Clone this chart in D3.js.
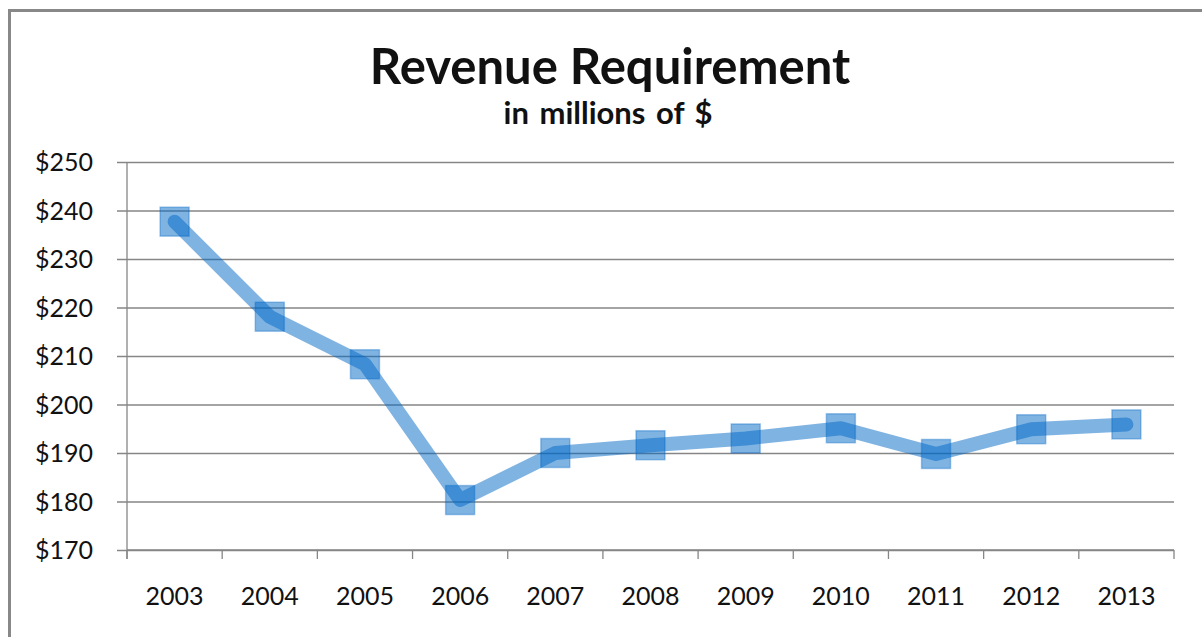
<!DOCTYPE html>
<html>
<head>
<meta charset="utf-8">
<script src="https://cdn.jsdelivr.net/npm/d3@7"></script>
<style>
  html, body { margin: 0; padding: 0; background: #fff; }
  svg { display: block; }
  text { font-family: Lato, "Open Sans", sans-serif; fill: #111; }
</style>
</head>
<body>
<svg id="chart" width="1202" height="637"></svg>
<script>
// Annual revenue requirement, millions of dollars
const years = ["2003", "2004", "2005", "2006", "2007", "2008", "2009", "2010", "2011", "2012", "2013"];
const revenue = [237.7, 218.1, 208.3, 180.3, 190.0, 191.6, 193.0, 195.1, 189.8, 194.9, 195.9];
const yTicks = [170, 180, 190, 200, 210, 220, 230, 240, 250];

const svg = d3.select("#chart");
const W = 1202, H = 637;
const plot = { left: 127, right: 1174, top: 162, bottom: 550 };

// chart frame (runs off the right and bottom edges)
svg.append("rect")
  .attr("x", 9.5).attr("y", 10.5)
  .attr("width", W + 20).attr("height", H + 20)
  .attr("fill", "#fff")
  .attr("stroke", "#888").attr("stroke-width", 3);

// titles
svg.append("text")
  .attr("x", 610).attr("y", 84)
  .attr("text-anchor", "middle")
  .style("font-weight", 700).style("font-size", "49px")
  .text("Revenue Requirement");
svg.append("text")
  .attr("x", 608).attr("y", 124)
  .attr("text-anchor", "middle")
  .style("font-weight", 700).style("font-size", "31px")
  .style("word-spacing", "3px")
  .text("in millions of $");

const x = d3.scaleBand().domain(years).range([plot.left, plot.right]);
const y = d3.scaleLinear().domain([170, 250]).range([plot.bottom, plot.top]);

const gridColor = "#868686";

// horizontal gridlines with left tick marks and $ labels
const yAxis = d3.axisLeft(y)
  .tickValues(yTicks)
  .tickSize(-(plot.right - plot.left))
  .tickPadding(0)
  .tickFormat(d => "$" + d);
const gy = svg.append("g").attr("transform", `translate(${plot.left},0)`).call(yAxis);
gy.select(".domain").remove();
gy.selectAll(".tick line")
  .attr("x1", -10)
  .attr("stroke", gridColor).attr("stroke-width", 1.3);
gy.selectAll(".tick text")
  .attr("x", -34).attr("dy", "0.34em")
  .style("font-size", "25px").style("font-family", "Lato, 'Open Sans', sans-serif")
  .attr("fill", "#111");

// vertical axis line
svg.append("line")
  .attr("x1", plot.left).attr("x2", plot.left)
  .attr("y1", plot.top).attr("y2", plot.bottom + 9)
  .attr("stroke", gridColor).attr("stroke-width", 1.3);

// category axis: ticks at band boundaries, labels centred in each band
const gx = svg.append("g").attr("transform", `translate(0,${plot.bottom})`);
gx.append("line")
  .attr("x1", plot.left).attr("x2", plot.right)
  .attr("stroke", gridColor).attr("stroke-width", 1.3);
const bounds = years.map(d => x(d)).concat([x(years[years.length - 1]) + x.bandwidth()]);
gx.selectAll("line.bt").data(bounds).join("line")
  .attr("class", "bt")
  .attr("x1", d => d).attr("x2", d => d)
  .attr("y1", 0).attr("y2", 9)
  .attr("stroke", gridColor).attr("stroke-width", 1.3);
gx.selectAll("text").data(years).join("text")
  .attr("x", d => x(d) + x.bandwidth() / 2)
  .attr("y", 55)
  .attr("text-anchor", "middle")
  .style("font-size", "25px")
  .text(d => d);

// series line and square markers
const blue = "#0068c6";
const cx = (d, i) => x(years[i]) + x.bandwidth() / 2;
const line = d3.line().x(cx).y(d => y(d));

svg.append("path")
  .datum(revenue)
  .attr("d", line)
  .attr("fill", "none")
  .attr("stroke", blue).attr("stroke-opacity", 0.5)
  .attr("stroke-width", 14)
  .attr("stroke-linejoin", "round").attr("stroke-linecap", "round");

const m = 29;
svg.selectAll("rect.mk").data(revenue).join("rect")
  .attr("class", "mk")
  .attr("x", (d, i) => cx(d, i) - m / 2)
  .attr("y", d => y(d) - m / 2)
  .attr("width", m).attr("height", m)
  .attr("fill", blue).attr("fill-opacity", 0.5)
  .attr("stroke", blue).attr("stroke-opacity", 0.35).attr("stroke-width", 1.5);
</script>
</body>
</html>
